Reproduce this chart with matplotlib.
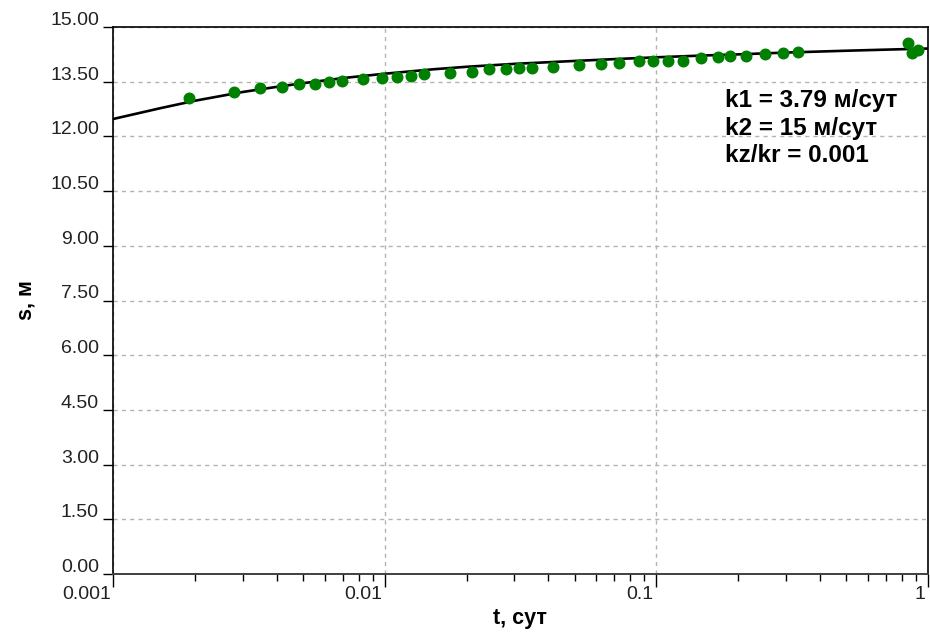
import numpy as np
import matplotlib
matplotlib.use('Agg')
import matplotlib.pyplot as plt
import matplotlib.transforms as mtransforms
from matplotlib.ticker import LogLocator, FixedLocator, FuncFormatter, NullFormatter

plt.rcParams['font.family'] = ['Liberation Sans', 'DejaVu Sans']

# measured drawdown
t_obs = [0.0019, 0.00279, 0.00346, 0.00416, 0.00483, 0.00552, 0.00622, 0.00696,
         0.00832, 0.00972, 0.0111, 0.0125, 0.0139, 0.0173, 0.0209, 0.0242,
         0.0279, 0.0311, 0.0347, 0.0417, 0.052, 0.0623, 0.0726, 0.0862,
         0.0973, 0.1105, 0.125, 0.146, 0.168, 0.1865, 0.2136, 0.251,
         0.292, 0.331, 0.843, 0.871, 0.921]
s_obs = [13.06, 13.23, 13.34, 13.36, 13.44, 13.43, 13.50, 13.53,
         13.57, 13.59, 13.63, 13.66, 13.70, 13.75, 13.77, 13.84,
         13.84, 13.87, 13.87, 13.91, 13.95, 13.99, 14.02, 14.06,
         14.06, 14.06, 14.08, 14.14, 14.19, 14.20, 14.20, 14.25,
         14.28, 14.31, 14.55, 14.28, 14.37]

# fitted type curve
t_fit = [0.001, 0.0015, 0.002, 0.003, 0.004, 0.005, 0.007, 0.01, 0.015, 0.02,
         0.03, 0.05, 0.07, 0.1, 0.15, 0.2, 0.3, 0.5, 0.7, 1.0]
s_fit = [12.48, 12.78, 12.98, 13.22, 13.36, 13.46, 13.60, 13.72, 13.84, 13.91,
         13.99, 14.07, 14.12, 14.17, 14.22, 14.25, 14.30, 14.35, 14.38, 14.41]

params = ['k1 = 3.79 м/сут', 'k2 = 15 м/сут', 'kz/kr = 0.001']
y_ticks = np.arange(0, 15.01, 1.5)

fig = plt.figure(figsize=(9.3, 6.42), dpi=100)
ax = fig.add_axes([0.1220, 0.1059, 0.8758, 0.852])

ax.plot(t_fit, s_fit, color='black', lw=1.9, zorder=3)
ax.plot(t_obs, s_obs, 'o', color='#008000', ms=7.6, mec='#008000', zorder=4)

ax.set_xscale('log')
ax.set_xlim(0.001, 1)
ax.set_ylim(0, 15)

ax.xaxis.set_major_locator(FixedLocator([0.001, 0.01, 0.1, 1]))
ax.xaxis.set_minor_locator(LogLocator(base=10, subs=np.arange(2, 10)))
ax.xaxis.set_major_formatter(FuncFormatter(lambda v, p: '{:g}'.format(v)))
ax.xaxis.set_minor_formatter(NullFormatter())
ax.set_yticks(y_ticks)
ax.yaxis.set_major_formatter(FuncFormatter(lambda v, p: '%.2f' % v))

ax.grid(True, which='major', color='#b4b4b4', ls=(0, (3, 3)), lw=1)
ax.set_axisbelow(True)

ax.tick_params(axis='y', which='major', direction='out', length=7.5, width=1,
               pad=3, labelsize=14, labelcolor='#222222')
ax.tick_params(axis='x', which='major', direction='out', length=9.5, width=1,
               pad=-1, labelsize=14, labelcolor='#222222')
ax.tick_params(axis='x', which='minor', direction='out', length=5, width=1)

# x labels sit to the left of their tick, y labels just above it
shift = mtransforms.ScaledTranslation(-2 / 72, 0, fig.dpi_scale_trans)
for lab in ax.get_xticklabels():
    lab.set_ha('right')
    lab.set_transform(lab.get_transform() + shift)
for lab in ax.get_yticklabels():
    lab.set_va('baseline')
    lab.set_transform(lab.get_transform() + mtransforms.ScaledTranslation(0, 1.5 / 72, fig.dpi_scale_trans))

for side in ['left', 'right', 'top']:
    ax.spines[side].set_color('black')
    ax.spines[side].set_linewidth(1.2)
ax.spines['bottom'].set_color('#404040')
ax.spines['bottom'].set_linewidth(1.4)

ax.set_xlabel('t, сут', fontsize=15.5, fontweight='bold', va='top')
ax.xaxis.set_label_coords(0.4988, -0.062)
ax.set_ylabel('s, м', fontsize=15.5, fontweight='bold')
ax.yaxis.set_label_coords(-0.094, 0.5)

ax.text(0.7505, 0.887, '\n'.join(params), transform=ax.transAxes, fontsize=17.5,
        fontweight='bold', ha='left', va='top', linespacing=1.26)

fig.savefig('out.png', dpi=100)
